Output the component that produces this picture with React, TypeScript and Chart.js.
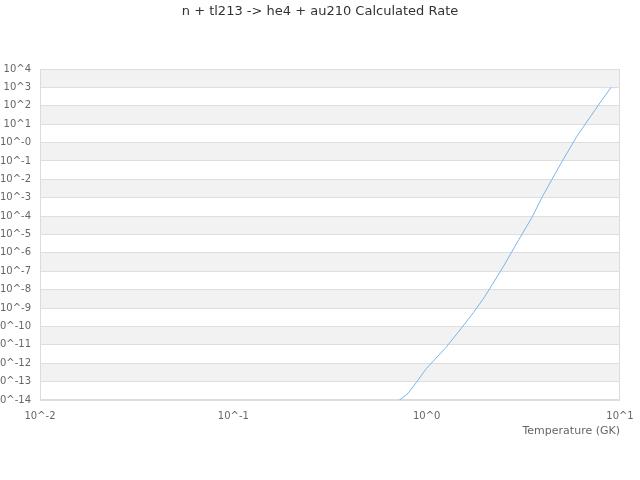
import React, { useEffect, useRef } from 'react';
import { Chart, registerables } from 'chart.js';

Chart.register(...registerables);

const chartTitle = 'n + tl213 -> he4 + au210 Calculated Rate';
const xAxisTitle = 'Temperature (GK)';

const temperatures = [0.7, 0.8, 0.9, 1.0, 1.25, 1.5, 1.75, 2.0, 2.5, 3.0, 3.5, 4.0, 5.0, 6.0, 7.0, 8.0, 9.0];
const rates = [
  7.59e-15, 2.24e-14, 1.17e-13, 5.37e-13, 6.61e-12, 7.24e-11, 5.89e-10, 4.27e-9,
  1.91e-7, 5.37e-6, 8.32e-5, 1.35e-3, 8.91e-2, 2.29, 24.0, 182, 1000,
];

const xTickValues = [0.01, 0.1, 1, 10];
const xTickLabels = ['10^-2', '10^-1', '10^0', '10^1'];

const yTickValues = [
  1e4, 1e3, 1e2, 1e1, 1e0, 1e-1, 1e-2, 1e-3, 1e-4, 1e-5, 1e-6, 1e-7, 1e-8, 1e-9,
  1e-10, 1e-11, 1e-12, 1e-13, 1e-14,
];
const yTickLabels = [
  '10^4', '10^3', '10^2', '10^1', '10^-0', '10^-1', '10^-2', '10^-3', '10^-4', '10^-5',
  '10^-6', '10^-7', '10^-8', '10^-9', '10^-10', '10^-11', '10^-12', '10^-13', '10^-14',
];

const FONT = '"DejaVu Sans", sans-serif';

function labelFor(values: number[], labels: string[], v: number): string {
  for (let i = 0; i < values.length; i++) {
    if (Math.abs(Math.log10(values[i]) - Math.log10(v)) < 1e-6) return labels[i];
  }
  return '';
}

const bandPlugin = {
  id: 'bands',
  beforeDraw(chart: any) {
    const { ctx, chartArea, scales } = chart;
    const y = scales.y;
    ctx.save();
    ctx.fillStyle = '#f2f2f2';
    for (let i = 0; i < yTickValues.length - 1; i += 2) {
      const top = y.getPixelForValue(yTickValues[i]);
      const bottom = y.getPixelForValue(yTickValues[i + 1]);
      ctx.fillRect(chartArea.left, top, chartArea.right - chartArea.left, bottom - top);
    }
    ctx.restore();
  },
  beforeDatasetsDraw(chart: any) {
    const { ctx, chartArea } = chart;
    ctx.save();
    ctx.strokeStyle = '#dcdcdc';
    ctx.lineWidth = 1;
    const l = Math.round(chartArea.left) + 0.5;
    const t = Math.round(chartArea.top) + 0.5;
    const r = Math.round(chartArea.right) - 0.5;
    const b = Math.round(chartArea.bottom) - 0.5;
    ctx.strokeRect(l, t, r - l, b - t);
    ctx.restore();
  },
};

export default function App() {
  const canvasRef = useRef<HTMLCanvasElement | null>(null);

  useEffect(() => {
    document.body.style.margin = '0';
    const canvas = canvasRef.current;
    if (!canvas) return;
    const chart = new Chart(canvas, {
      type: 'line',
      data: {
        datasets: [
          {
            label: 'rate',
            data: temperatures.map((t, i) => ({ x: t, y: rates[i] })),
            borderColor: '#7cb5ec',
            backgroundColor: '#7cb5ec',
            borderWidth: 1,
            pointRadius: 0,
            tension: 0,
            fill: false,
          },
        ],
      },
      options: {
        responsive: false,
        animation: false,
        devicePixelRatio: 1,
        layout: { padding: { top: 0, left: 0, right: 0, bottom: 41.8 } },
        plugins: {
          legend: { display: false },
          tooltip: { enabled: false },
          title: {
            display: true,
            text: chartTitle,
            color: '#333333',
            font: { family: FONT, size: 13, weight: 'normal', lineHeight: 1.2 },
            padding: { top: 4, bottom: 49.4 },
          },
        },
        scales: {
          x: {
            type: 'logarithmic',
            min: 0.01,
            max: 10,
            afterBuildTicks: (scale: any) => {
              scale.ticks = xTickValues.map((v) => ({ value: v }));
            },
            afterFit: (scale: any) => {
              scale.paddingRight = 20;
            },
            grid: { display: false, drawTicks: true, tickLength: 7 },
            border: { display: false },
            ticks: {
              autoSkip: false,
              maxRotation: 0,
              padding: 3,
              color: '#666666',
              font: { family: FONT, size: 10, lineHeight: 1.2 },
              callback: (value: any) => labelFor(xTickValues, xTickLabels, Number(value)),
            },
            title: {
              display: true,
              text: xAxisTitle,
              align: 'end',
              color: '#666666',
              font: { family: FONT, size: 11, lineHeight: 1.2 },
              padding: { top: 0, bottom: 0 },
            },
          },
          y: {
            type: 'logarithmic',
            min: 1e-14,
            max: 1e4,
            afterBuildTicks: (scale: any) => {
              scale.ticks = yTickValues.slice().reverse().map((v) => ({ value: v }));
            },
            afterFit: (scale: any) => {
              scale.width = 40;
            },
            grid: { display: true, color: '#dedede', lineWidth: 1, drawTicks: false },
            border: { display: false },
            ticks: {
              autoSkip: false,
              padding: 9,
              color: '#666666',
              font: { family: FONT, size: 10, lineHeight: 1.2 },
              callback: (value: any) => labelFor(yTickValues, yTickLabels, Number(value)),
            },
          },
        },
      },
      plugins: [bandPlugin],
    } as any);
    return () => {
      chart.destroy();
    };
  }, []);

  return (
    <div style={{ position: 'absolute', left: 0, top: 0, width: 640, height: 480 }}>
      <canvas ref={canvasRef} width={640} height={480} style={{ width: 640, height: 480, display: 'block' }} />
    </div>
  );
}
